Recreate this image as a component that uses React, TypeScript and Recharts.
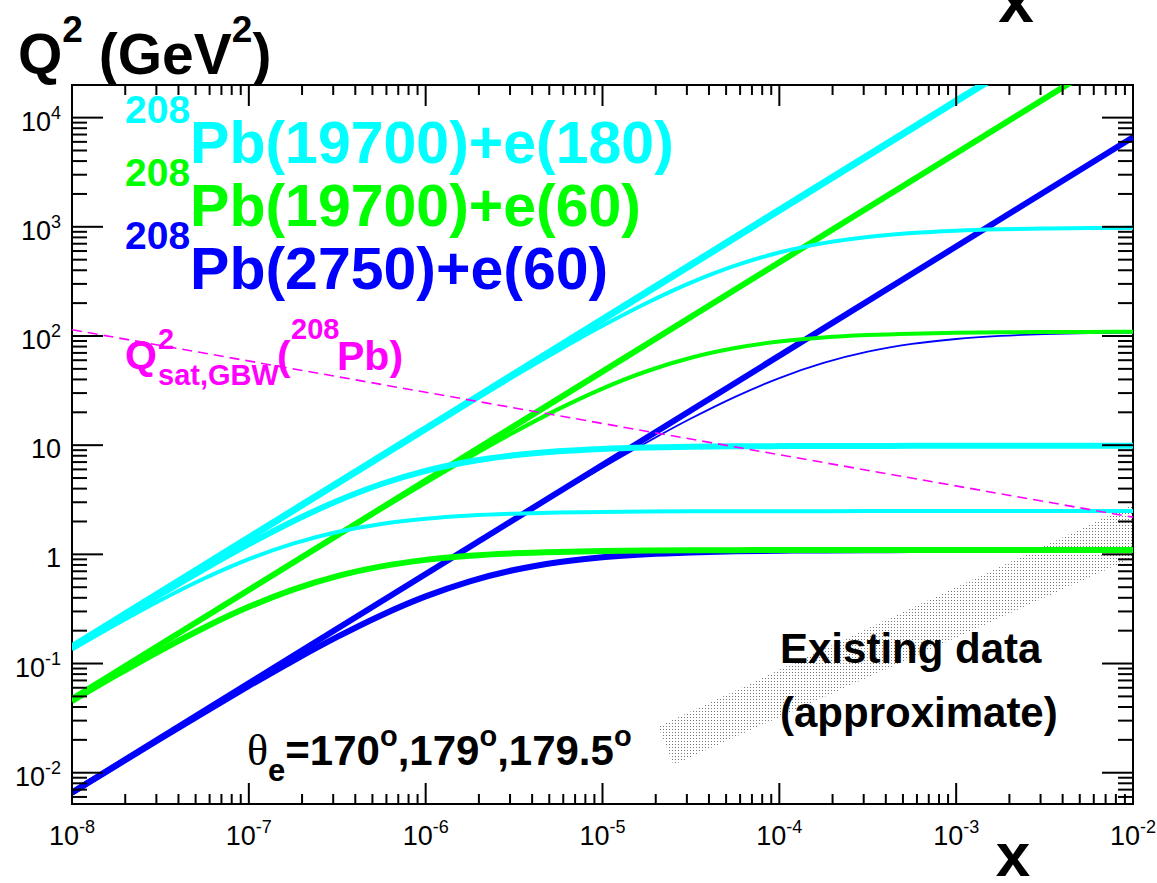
import React from 'react';
import { ComposedChart, Line, Area, XAxis, YAxis, ReferenceArea } from 'recharts';

const FONT = '"Liberation Sans", Arial, Helvetica, sans-serif';

const X_MIN = 1e-8;
const X_MAX = 1e-2;
const Y_MIN = 5.17e-3;
const Y_MAX = 1.99e4;

// x points the curves were read at (quarter decades)
const X_GRID = [
  1e-8, 1.778e-8, 3.162e-8, 5.623e-8, 1e-7, 1.778e-7, 3.162e-7, 5.623e-7, 1e-6, 1.778e-6, 3.162e-6,
  5.623e-6, 1e-5, 1.778e-5, 3.162e-5, 5.623e-5, 1e-4, 1.778e-4, 3.162e-4, 5.623e-4, 1e-3, 1.778e-3,
  3.162e-3, 5.623e-3, 1e-2,
];
const X_ENDS = [1e-8, 1e-2];

// 208Pb(19700)+e(180)
const CYAN_KIN = [0.1418, 141800];
const CYAN_170 = [
  0.1418, 0.2521, 0.4482, 0.7968, 1.416, 2.515, 4.464, 7.91, 13.98, 24.59, 42.89, 73.77, 124.0, 200.8,
  308.2, 440.7, 581.3, 708.5, 807.7, 876.9, 921.2, 948.2, 963.9, 973.2, 978.2,
];
const CYAN_179 = [
  0.1398, 0.2459, 0.429, 0.7378, 1.24, 2.009, 3.083, 4.411, 5.82, 7.094, 8.09, 8.784, 9.229, 9.5, 9.659,
  9.751, 9.803, 9.831, 9.848, 9.857, 9.863, 9.866, 9.868, 9.869, 9.87,
];
const CYAN_1795 = [
  0.1342, 0.229, 0.38, 0.604, 0.9035, 1.253, 1.601, 1.898, 2.118, 2.266, 2.359, 2.415, 2.447, 2.466,
  2.476, 2.482, 2.486, 2.488, 2.489, 2.489, 2.49, 2.49, 2.49, 2.49, 2.49,
];

// 208Pb(19700)+e(60)
const GREEN_KIN = [0.04728, 47280];
const GREEN_170 = [
  0.04726, 0.08401, 0.1493, 0.2653, 0.4708, 0.8343, 1.475, 2.596, 4.532, 7.807, 13.15, 21.39, 33.01,
  47.54, 63.17, 77.51, 88.84, 96.8, 101.9, 105.1, 106.9, 108.0, 108.6, 108.95, 109.15,
];
const GREEN_179 = [
  0.04533, 0.07808, 0.1316, 0.214, 0.3304, 0.4759, 0.6327, 0.7766, 0.8904, 0.9704, 1.022, 1.0535,
  1.0721, 1.0828, 1.089, 1.0925, 1.0944, 1.0955, 1.0962, 1.0965, 1.0967, 1.0968, 1.0969, 1.0969, 1.0969,
];

// 208Pb(2750)+e(60)
const BLUE_KIN = [0.0066, 6600];
const BLUE_170 = [
  0.0066, 0.011734, 0.020865, 0.037099, 0.065961, 0.11723, 0.20829, 0.36986, 0.65604, 1.161, 2.0479,
  3.5895, 6.2245, 10.598, 17.526, 27.711, 41.164, 56.616, 71.77, 84.49, 93.84, 100.07, 103.95, 106.26,
  107.61,
];
const BLUE_179 = [
  0.006561, 0.011611, 0.020479, 0.035898, 0.062255, 0.10601, 0.17533, 0.2773, 0.41208, 0.56697, 0.71902,
  0.8467, 0.94063, 1.0032, 1.04219, 1.06548, 1.07904, 1.08681, 1.09124, 1.09374, 1.09515, 1.09594,
  1.09639, 1.09665, 1.09679,
];

// Q2_sat,GBW(208Pb), straight in log-log
const QSAT_GBW = [114, 2.19];

// existing data band (approximate)
const BAND_X = [2.07e-5, 2.52e-5, 1e-2];
const BAND_LOW = [0.0265, 0.0118, 0.929];
const BAND_HIGH = [0.0265, 0.0307, 2.87];

const X_MAJOR = [1e-8, 1e-7, 1e-6, 1e-5, 1e-4, 1e-3, 1e-2];
const Y_DECADES = [1e-3, 1e-2, 1e-1, 1, 10, 100, 1000, 10000];
const MINOR_STEPS = [1, 2, 3, 4, 5, 6, 7, 8, 9];

const X_TICKS = X_MAJOR.flatMap((d) => MINOR_STEPS.map((k) => k * d)).filter(
  (v) => v >= X_MIN * 0.999 && v <= X_MAX * 1.001,
);
const Y_TICKS = Y_DECADES.flatMap((d) => MINOR_STEPS.map((k) => k * d)).filter(
  (v) => v >= Y_MIN && v <= Y_MAX,
);

const PLOT_W = 1061;
const PLOT_H = 719;

const points = (xs: number[], ys: number[]) => xs.map((x, i) => ({ x, q2: ys[i] }));
const bandData = BAND_X.map((x, i) => ({ x, band: [BAND_LOW[i], BAND_HIGH[i]] }));

type Series = {
  key: string;
  color: string;
  width: number;
  xs: number[];
  ys: number[];
  curve: 'linear' | 'monotone';
  dash?: string;
};

const SERIES: Series[] = [
  { key: 'blueKin', color: '#0000ff', width: 6, xs: X_ENDS, ys: BLUE_KIN, curve: 'linear' },
  { key: 'blue170', color: '#0000ff', width: 1.8, xs: X_GRID, ys: BLUE_170, curve: 'monotone' },
  { key: 'blue179', color: '#0000ff', width: 6, xs: X_GRID, ys: BLUE_179, curve: 'monotone' },
  { key: 'greenKin', color: '#00ff00', width: 6, xs: X_ENDS, ys: GREEN_KIN, curve: 'linear' },
  { key: 'green170', color: '#00ff00', width: 4, xs: X_GRID, ys: GREEN_170, curve: 'monotone' },
  { key: 'green179', color: '#00ff00', width: 6, xs: X_GRID, ys: GREEN_179, curve: 'monotone' },
  { key: 'cyanKin', color: '#00ffff', width: 7, xs: X_ENDS, ys: CYAN_KIN, curve: 'linear' },
  { key: 'cyan170', color: '#00ffff', width: 4, xs: X_GRID, ys: CYAN_170, curve: 'monotone' },
  { key: 'cyan179', color: '#00ffff', width: 6, xs: X_GRID, ys: CYAN_179, curve: 'monotone' },
  { key: 'cyan1795', color: '#00ffff', width: 4, xs: X_GRID, ys: CYAN_1795, curve: 'monotone' },
  { key: 'qsat', color: '#ff00ff', width: 1.6, xs: X_ENDS, ys: QSAT_GBW, curve: 'linear', dash: '10 6' },
];

const isMajor = (v: number) => {
  const lg = Math.log10(v);
  return Math.abs(lg - Math.round(lg)) < 1e-6;
};

const XTick = (props: any) => {
  const { x, y, payload } = props;
  const v = payload.value as number;
  const major = isMajor(v);
  const len = major ? 21 : 10;
  const e = Math.round(Math.log10(v));
  return (
    <g>
      <line x1={x} x2={x} y1={y} y2={y - len} stroke="#000" strokeWidth={2} />
      <line x1={x} x2={x} y1={y - PLOT_H} y2={y - PLOT_H + len} stroke="#000" strokeWidth={2} />
      {major ? (
        <text x={x} y={y + 41} textAnchor="middle" fontSize={27} fontFamily={FONT} fill="#000">
          10
          <tspan dy={-12} fontSize={18}>
            {e}
          </tspan>
        </text>
      ) : null}
    </g>
  );
};

const YTick = (props: any) => {
  const { x, y, payload } = props;
  const v = payload.value as number;
  const major = isMajor(v);
  const len = major ? 31 : 15;
  const e = Math.round(Math.log10(v));
  return (
    <g>
      <line x1={x} x2={x + len} y1={y} y2={y} stroke="#000" strokeWidth={2} />
      <line x1={x + PLOT_W} x2={x + PLOT_W - len} y1={y} y2={y} stroke="#000" strokeWidth={2} />
      {major ? (
        <text x={x - 11} y={y + 13} textAnchor="end" fontSize={27} fontFamily={FONT} fill="#000">
          {e === 0 ? '1' : '10'}
          {e !== 0 && e !== 1 ? (
            <tspan dy={-12} fontSize={18}>
              {e}
            </tspan>
          ) : null}
        </text>
      ) : null}
    </g>
  );
};

const LegendRow = ({ y, color, text }: { y: number; color: string; text: string }) => (
  <text x={125} y={y} fontSize={59} fontWeight="bold" fontFamily={FONT} fill={color}>
    <tspan dy={-40} fontSize={39}>
      208
    </tspan>
    <tspan dy={40}>{text}</tspan>
  </text>
);

const Overlay = () => (
  <svg
    width={1157}
    height={883}
    style={{ position: 'absolute', left: 0, top: 0, pointerEvents: 'none' }}
  >
    <text x={18} y={74} fontSize={57} fontWeight="bold" fontFamily={FONT} fill="#000">
      Q
      <tspan dy={-32} fontSize={37}>
        2
      </tspan>
      <tspan dy={32}>{' (GeV'}</tspan>
      <tspan dy={-32} fontSize={37}>
        2
      </tspan>
      <tspan dy={32}>)</tspan>
    </text>
    <text x={1016} y={22} textAnchor="middle" fontSize={64} fontWeight="bold" fontFamily={FONT} fill="#000">
      x
    </text>
    <text x={1013} y={876} textAnchor="middle" fontSize={62} fontWeight="bold" fontFamily={FONT} fill="#000">
      x
    </text>

    <LegendRow y={163} color="#00ffff" text="Pb(19700)+e(180)" />
    <LegendRow y={226} color="#00ff00" text="Pb(19700)+e(60)" />
    <LegendRow y={289} color="#0000ff" text="Pb(2750)+e(60)" />

    <g fontFamily={FONT} fontWeight="bold" fill="#ff00ff">
      <text x={125} y={369} fontSize={41}>Q</text>
      <text x={158} y={349} fontSize={29}>2</text>
      <text x={158} y={385} fontSize={29}>sat,GBW</text>
      <text x={277} y={370} fontSize={41}>(</text>
      <text x={291} y={339} fontSize={29}>208</text>
      <text x={337} y={370} fontSize={41}>Pb)</text>
    </g>

    <text x={247} y={765} fontFamily={FONT} fontWeight="bold" fontSize={42} fill="#000">
      <tspan fontFamily='"Liberation Serif", "DejaVu Serif", serif' fontWeight="normal" fontSize={44}>
        θ
      </tspan>
      <tspan dy={16} fontSize={31}>
        e
      </tspan>
      <tspan dy={-16}>=170</tspan>
      <tspan dy={-19} fontSize={29}>
        o
      </tspan>
      <tspan dy={19}>,179</tspan>
      <tspan dy={-19} fontSize={29}>
        o
      </tspan>
      <tspan dy={19}>,179.5</tspan>
      <tspan dy={-19} fontSize={29}>
        o
      </tspan>
    </text>

    <text x={780} y={663} fontFamily={FONT} fontWeight="bold" fontSize={42} fill="#000">
      Existing data
    </text>
    <text x={780} y={727} fontFamily={FONT} fontWeight="bold" fontSize={42} fill="#000">
      (approximate)
    </text>
  </svg>
);

const App: React.FC = () => (
  <div style={{ position: 'absolute', left: 0, top: 0, width: 1157, height: 883, background: '#fff' }}>
    <ComposedChart width={1157} height={883} margin={{ top: 85, right: 24, bottom: 78, left: 71 }}>
      <defs>
        <pattern id="existingDots" width={3} height={3} patternUnits="userSpaceOnUse">
          <rect x={0} y={0} width={1} height={1} fill="#777" />
        </pattern>
      </defs>
      <XAxis
        dataKey="x"
        type="number"
        scale="log"
        domain={[X_MIN, X_MAX]}
        allowDataOverflow
        ticks={X_TICKS}
        interval={0}
        height={1}
        tickSize={0}
        tickMargin={0}
        axisLine={false}
        tickLine={false}
        tick={<XTick />}
      />
      <YAxis
        type="number"
        scale="log"
        domain={[Y_MIN, Y_MAX]}
        allowDataOverflow
        ticks={Y_TICKS}
        interval={0}
        width={1}
        tickSize={0}
        tickMargin={0}
        axisLine={false}
        tickLine={false}
        tick={<YTick />}
      />
      {SERIES.map((s) => (
        <Line
          key={s.key}
          data={points(s.xs, s.ys)}
          dataKey="q2"
          type={s.curve}
          stroke={s.color}
          strokeWidth={s.width}
          strokeDasharray={s.dash}
          dot={false}
          activeDot={false}
          isAnimationActive={false}
        />
      ))}
      <Area
        data={bandData}
        dataKey="band"
        type="linear"
        stroke="none"
        fill="url(#existingDots)"
        fillOpacity={1}
        isAnimationActive={false}
      />
      <ReferenceArea
        x1={X_MIN}
        x2={X_MAX}
        y1={Y_MIN}
        y2={Y_MAX}
        fill="none"
        stroke="#000"
        strokeWidth={2}
        ifOverflow="visible"
      />
    </ComposedChart>
    <Overlay />
  </div>
);

export default App;
